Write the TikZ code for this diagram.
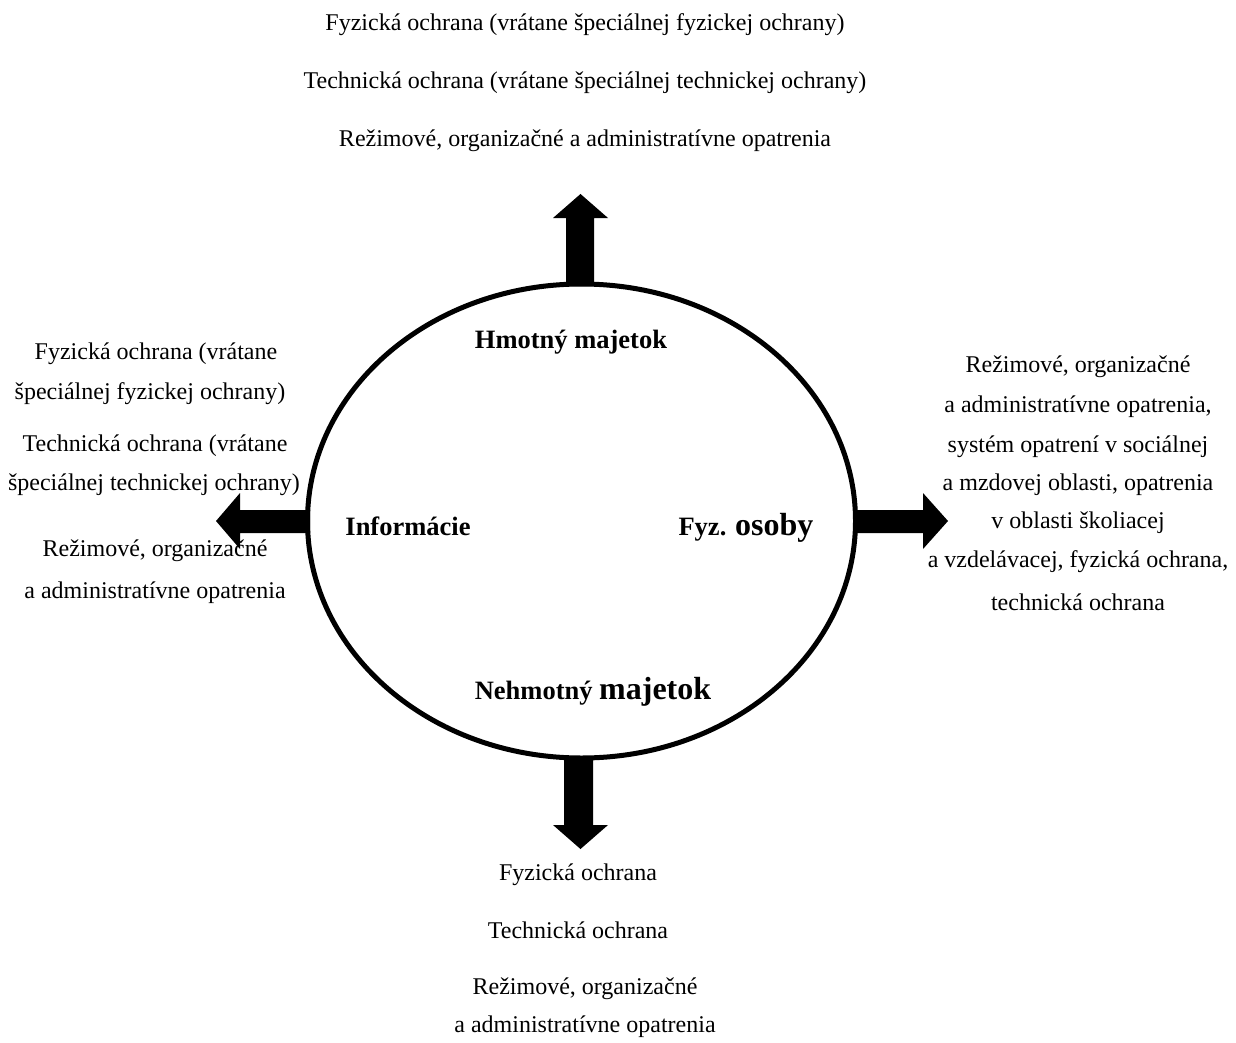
\documentclass[tikz,border=0pt]{standalone}
\usepackage{fontspec}
\setmainfont{Liberation Serif}
\begin{document}
\begin{tikzpicture}[x=1pt,y=-1pt,
  lbl/.style={inner sep=0pt,anchor=base,font=\fontsize{24}{28}\selectfont},
  inlbl/.style={inner sep=0pt,anchor=base,font=\fontsize{26.5}{30}\selectfont\bfseries},
  bigarrow/.style={fill=black,draw=none}]
\useasboundingbox (0,0) rectangle (1236,1043);
% arrows
\fill[bigarrow] (566,286) -- (566,218) -- (553,218) -- (580.5,194) -- (608,218) -- (594,218) -- (594,286) -- cycle;
\fill[bigarrow] (310,510) -- (240,510) -- (240,493) -- (216,521) -- (240,549) -- (240,533) -- (310,533) -- cycle;
\fill[bigarrow] (854,510) -- (923,510) -- (923,493) -- (948,521) -- (923,549) -- (923,533) -- (854,533) -- cycle;
\fill[bigarrow] (564,756) -- (564,825) -- (553,825) -- (580.5,849) -- (608,825) -- (593,825) -- (593,756) -- cycle;
% ellipse
\draw[line width=5pt] (581.5,521) ellipse [x radius=274, y radius=237];
\coordinate (center) at (581.5,521);
% inner labels
\node[inlbl] (hm) at (571,348) {Hmotný majetok};
\node[inlbl] (inf) at (408,535) {Informácie};
\node[inlbl] (fo) at (746,535) {Fyz. {\fontsize{32}{32}\selectfont osoby}};
\node[inlbl] (nm) at (593,699) {Nehmotný {\fontsize{32}{32}\selectfont majetok}};
% top texts
\node[lbl] (t1) at (585,31) {Fyzická ochrana (vrátane špeciálnej fyzickej ochrany)};
\node[lbl] (t2) at (585,89) {Technická ochrana (vrátane špeciálnej technickej ochrany)};
\node[lbl] (t3) at (585,147) {Režimové, organizačné a administratívne opatrenia};
% left texts
\node[lbl] (l1) at (156,359) {Fyzická ochrana (vrátane};
\node[lbl] (l2) at (150,399) {špeciálnej fyzickej ochrany)};
\node[lbl] (l3) at (155,451) {Technická ochrana (vrátane};
\node[lbl] (l4) at (154,490) {špeciálnej technickej ochrany)};
\node[lbl] (l5) at (155,556) {Režimové, organizačné};
\node[lbl] (l6) at (155,598) {a administratívne opatrenia};
% right texts
\node[lbl] (r1) at (1078,372) {Režimové, organizačné};
\node[lbl] (r2) at (1078,412) {a administratívne opatrenia,};
\node[lbl] (r3) at (1078,452) {systém opatrení v sociálnej};
\node[lbl] (r4) at (1078,490) {a mzdovej oblasti, opatrenia};
\node[lbl] (r5) at (1078,528) {v oblasti školiacej};
\node[lbl] (r6) at (1078,567) {a vzdelávacej, fyzická ochrana,};
\node[lbl] (r7) at (1078,610) {technická ochrana};
% bottom texts
\node[lbl] (b1) at (578,880) {Fyzická ochrana};
\node[lbl] (b2) at (578,938) {Technická ochrana};
\node[lbl] (b3) at (585,994) {Režimové, organizačné};
\node[lbl] (b4) at (585,1032) {a administratívne opatrenia};
\end{tikzpicture}
\end{document}
